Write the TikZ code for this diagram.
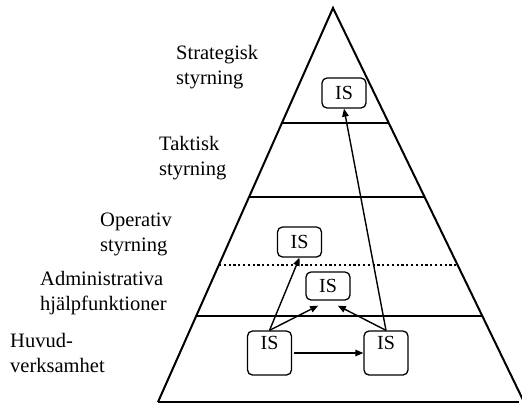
\documentclass[tikz,border=0pt]{standalone}
\usepackage{fontspec}
\setmainfont{Liberation Serif}
\usetikzlibrary{arrows.meta,calc}

\begin{document}
\begin{tikzpicture}[
  x=1pt,y=-1pt,
  level/.style={anchor=base west,inner sep=0pt,align=left,font=\fontsize{20.5}{24.5}\selectfont},
  isbox/.style={draw,line width=1.3pt,rounded corners=5pt,minimum width=44pt,minimum height=30pt,inner sep=3pt,font=\fontsize{20}{24}\selectfont},
  isbig/.style={isbox,text height=15pt,text depth=23pt},
  edge/.style={line width=2pt},
  arr/.style={-{Triangle[length=8pt,width=6.5pt]},line width=1.4pt}
]
\useasboundingbox (0,0) rectangle (522,405);
% pyramid
\coordinate (top) at (333,8);
\coordinate (bl) at (158,402);
\coordinate (br) at (524,402);
\draw[edge,line join=miter] (bl) -- (top) -- (br);
\draw[edge] (bl) -- (519,402);
\draw[edge] ($(top)!0.292!(bl)$) -- ($(top)!0.292!(br)$);
\draw[edge] ($(top)!0.48!(bl)$) -- ($(top)!0.48!(br)$);
\draw[line width=1.6pt,dash pattern=on 2.2pt off 2.6pt] ($(top)!0.652!(bl)$) -- ($(top)!0.652!(br)$);
\draw[edge] ($(top)!0.782!(bl)$) -- ($(top)!0.782!(br)$);
% levels (base = last line)
\node[level] (strat) at (176,84) {Strategisk\\styrning};
\node[level] (takt) at (159,175) {Taktisk\\styrning};
\node[level] (oper) at (100,251) {Operativ\\styrning};
\node[level] (adm) at (40,310) {Administrativa\\hjälpfunktioner};
\node[level] (huvud) at (10,372) {Huvud-\\verksamhet};
% systems
\node[isbox] (is1) at (344,93) {IS};
\node[isbox] (is2) at (299.5,242) {IS};
\node[isbox,minimum height=28pt] (is3) at (328,286) {IS};
\node[isbig] (is4) at (269.5,353) {IS};
\node[isbig] (is5) at (386,353) {IS};
\draw[arr,shorten <=2pt] (is4) -- (is5);
\draw[arr] (is4.north) -- (is2.south);
\draw[arr] (is5.north) -- (is1.south);
\foreach \a in {is4,is5} \draw[arr,shorten >=11pt] (\a.north) -- (is3.south);
\end{tikzpicture}
\end{document}
